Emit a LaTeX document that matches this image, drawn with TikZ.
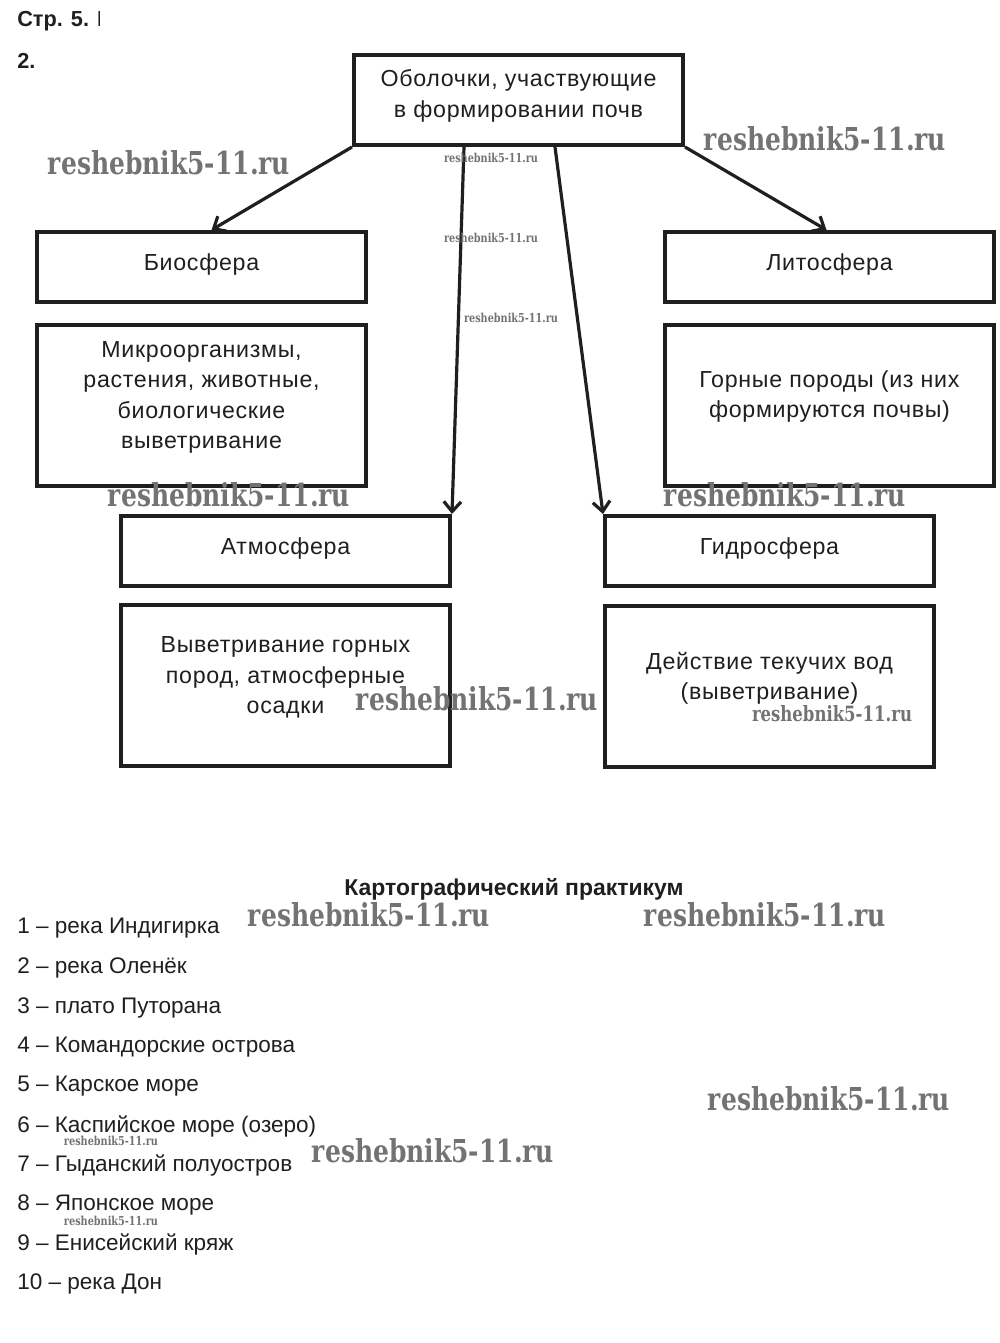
\documentclass[tikz,border=0pt]{standalone}
\usepackage{fontspec}
\setmainfont{Liberation Sans}
\newfontfamily\boxfont[LetterSpace=3]{Liberation Sans}
\newfontfamily\wmfont{DejaVu Serif}
\usepackage{graphicx}
\usetikzlibrary{arrows.meta,calc}
\begin{document}
\begin{tikzpicture}[x=0.75pt,y=-0.75pt,
  sbox/.style={draw=black!88, line width=3pt, minimum width=246.75pt, inner sep=0pt, fill=white},
  shortbox/.style={sbox, minimum height=52.5pt},
  tallbox/.style={sbox, minimum height=120.75pt},
  btext/.style={align=center, inner sep=0pt, text=black!88, font=\boxfont\fontsize{17.4}{22.7}\selectfont},
  conn/.style={line width=2.4pt, draw=black!88, -{Straight Barb[length=7.5pt,width=13pt,line width=2.4pt]}},
  listitem/.style={anchor=west, inner sep=0pt, text=black!88, font=\fontsize{16.9}{20}\selectfont},
  wm/.style={inner sep=0pt, text=black!55, font=\wmfont\bfseries}
]
\useasboundingbox (0,0) rectangle (1000,1343);

% header
\begin{scope}
\clip (0,0) rectangle (99,45);
\node[anchor=west, inner sep=0pt, font=\bfseries\fontsize{16.3}{20}\selectfont, text=black!88] (hdr) at (17,21) {Стр. 5. В};
\end{scope}
\node[anchor=west, inner sep=0pt, font=\bfseries\fontsize{16.3}{20}\selectfont, text=black!88] (num) at (17,61) {2.};

% boxes
\node[sbox, minimum height=67.5pt] (top) at (518.5,100) {};
\node[btext] (toptxt) at ($(top.center)+(0,-4)$) {Оболочки, участвующие\\в формировании почв};

\node[shortbox] (bio) at (201.5,267) {};
\node[btext] (biotxt) at ($(bio.center)+(0,-3)$) {Биосфера};
\node[tallbox] (micro) at (201.5,405.5) {};
\node[btext] (microtxt) at ($(micro.center)+(0,-8)$) {Микроорганизмы,\\растения, животные,\\биологические\\выветривание};

\node[shortbox] (lito) at (829.5,267) {};
\node[btext] (litotxt) at ($(lito.center)+(0,-3)$) {Литосфера};
\node[tallbox] (gor) at (829.5,405.5) {};
\node[btext] (gortxt) at ($(gor.center)+(0,-9)$) {Горные породы (из них\\формируются почвы)};

\node[shortbox] (atm) at (285.5,551) {};
\node[btext] (atmtxt) at ($(atm.center)+(0,-3)$) {Атмосфера};
\node[tallbox] (vyv) at (285.5,685.5) {};
\node[btext] (vyvtxt) at ($(vyv.center)+(0,-8)$) {Выветривание горных\\пород, атмосферные\\осадки};

\node[shortbox] (hyd) at (769.5,551) {};
\node[btext] (hydtxt) at ($(hyd.center)+(0,-3)$) {Гидросфера};
\node[tallbox] (dei) at (769.5,686) {};
\node[btext] (deitxt) at ($(dei.center)+(0,-8)$) {Действие текучих вод\\(выветривание)};

% connectors
\draw[conn] (top.south west) -- ($(bio.north)+(10,0)$);
\draw[conn] (top.south east) -- ($(lito.north)+(-3,0)$);
\draw[conn] ($(top.south west)+(112,0)$) -- (atm.north east);
\draw[conn] ($(top.south west)+(203,0)$) -- (hyd.north west);

% lower part
\node[inner sep=0pt, font=\bfseries\fontsize{17.2}{20}\selectfont, text=black!88] (title) at (514,889) {Картографический практикум};
\node[listitem] (l1) at (17,928.5) {1 – река Индигирка};
\node[listitem] (l2) at (17,968) {2 – река Оленёк};
\node[listitem] (l3) at (17,1007.5) {3 – плато Путорана};
\node[listitem] (l4) at (17,1047) {4 – Командорские острова};
\node[listitem] (l5) at (17,1086.5) {5 – Карское море};
\node[listitem] (l6) at (17,1126) {6 – Каспийское море (озеро)};
\node[listitem] (l7) at (17,1165.5) {7 – Гыданский полуостров};
\node[listitem] (l8) at (17,1205) {8 – Японское море};
\node[listitem] (l9) at (17,1244.5) {9 – Енисейский кряж};
\node[listitem] (l10) at (17,1284) {10 – река Дон};

% watermarks
\newcommand{\wmark}[5]{\node[wm] (#1) at (#2,#3) {\resizebox{#4}{#5}{reshebnik5-11.ru}};}
\wmark{w1}{169}{163}{181.5pt}{18pt}
\wmark{w2}{825}{139}{181.5pt}{18pt}
\wmark{w3}{491}{158}{70.5pt}{7pt}
\wmark{w4}{491}{238}{70.5pt}{7pt}
\wmark{w5}{511}{318}{70.5pt}{7pt}
\wmark{w6}{229}{495}{181.5pt}{18pt}
\wmark{w7}{785}{495}{181.5pt}{18pt}
\wmark{w8}{477}{699}{181.5pt}{18pt}
\wmark{w9}{832}{714}{120pt}{12pt}
\wmark{w10}{369}{915}{181.5pt}{18pt}
\wmark{w11}{765}{915}{181.5pt}{18pt}
\wmark{w12}{829}{1099}{181.5pt}{18pt}
\wmark{w13}{111}{1141}{70.5pt}{7pt}
\wmark{w14}{433}{1151}{181.5pt}{18pt}
\wmark{w15}{111}{1221}{70.5pt}{7pt}
\end{tikzpicture}
\end{document}
